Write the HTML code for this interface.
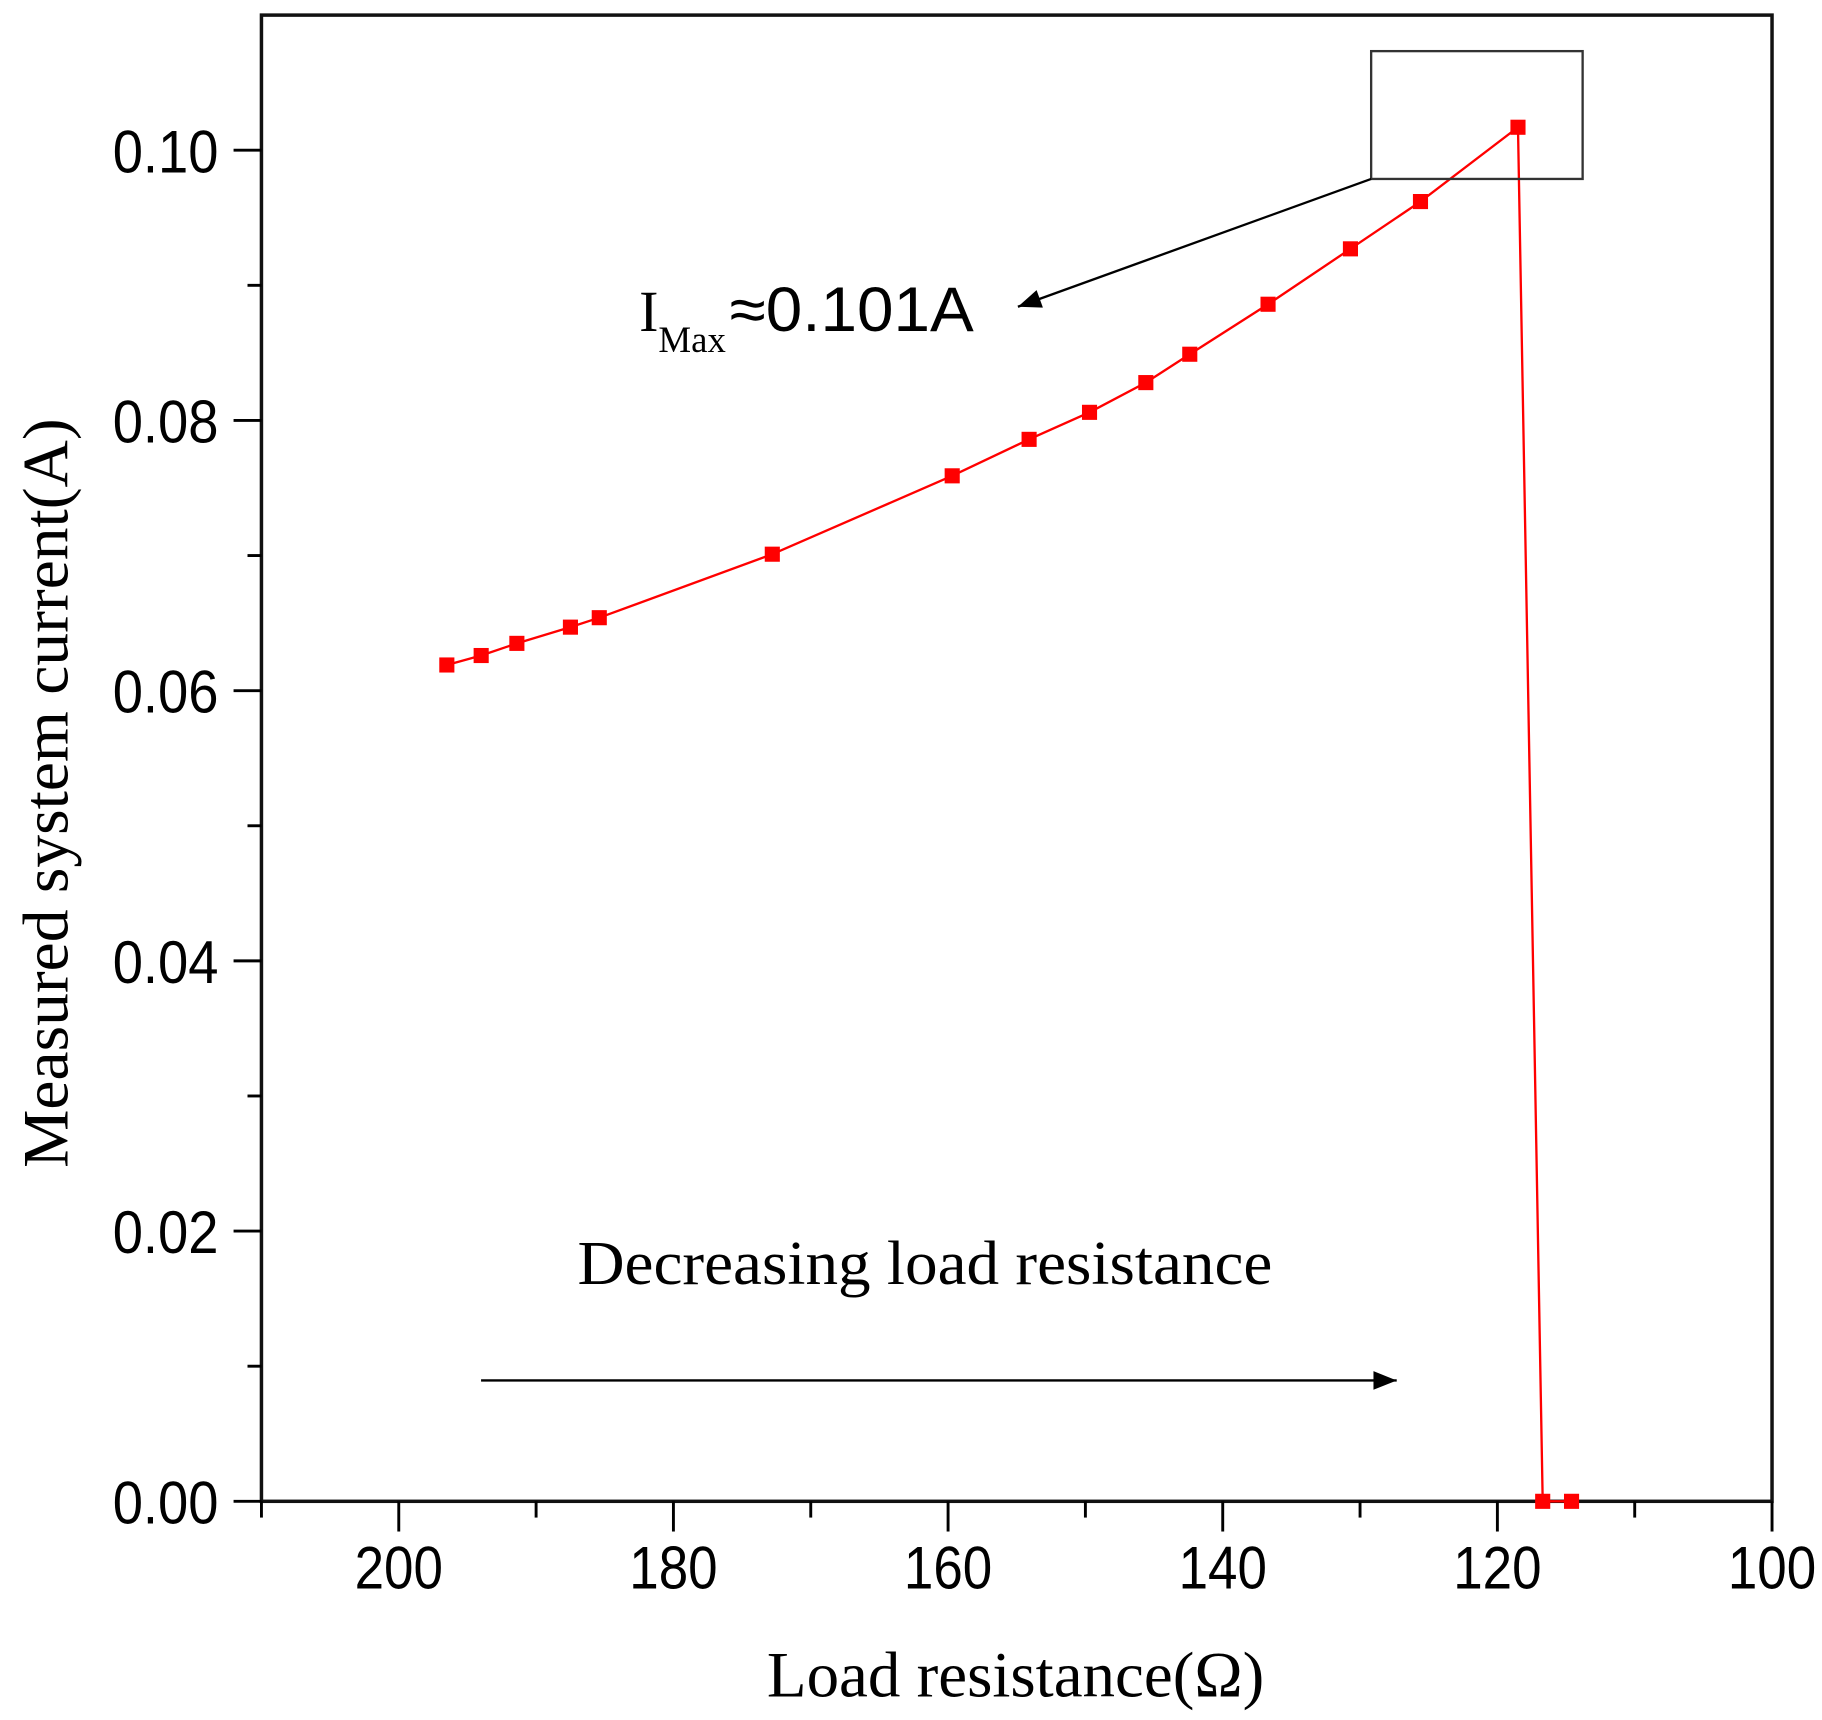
<!DOCTYPE html>
<html><head><meta charset="utf-8"><style>
html,body{margin:0;padding:0;background:#fff;}
svg{display:block;}
</style></head><body>
<svg id="chart" width="1822" height="1720" viewBox="0 0 1568 1480.2" preserveAspectRatio="none" xmlns="http://www.w3.org/2000/svg">
<g id="plot"></g>
</svg>
<script>
const resistance = [196.5, 194.0, 191.4, 187.5, 185.4, 172.8, 159.7, 154.1, 149.7, 145.6, 142.4, 136.7, 130.7, 125.6, 118.5, 116.7, 114.6];
const current = [0.0619, 0.0626, 0.0635, 0.0647, 0.0654, 0.0701, 0.0759, 0.0786, 0.0806, 0.0828, 0.0849, 0.0886, 0.0927, 0.0962, 0.1017, 0, 0];
const xTickLabels = [200, 180, 160, 140, 120, 100];
const xMinorTicks = [210, 190, 170, 150, 130, 110];
const yTickLabels = ["0.00", "0.02", "0.04", "0.06", "0.08", "0.10"];
const yTickValues = [0, 0.02, 0.04, 0.06, 0.08, 0.10];
const yMinorTicks = [0.01, 0.03, 0.05, 0.07, 0.09];

const L=225, R=1525, T=13, B=1292;
const xS = v => L + (210 - v) / 110 * (R - L);
const yS = v => B - v / 0.11 * (B - T);
const NS = "http://www.w3.org/2000/svg";
const g = document.getElementById('plot');
function mk(tag, attrs, parent){ const e=document.createElementNS(NS,tag); for(const k in attrs) e.setAttribute(k,attrs[k]); (parent||g).appendChild(e); return e; }

const defs = mk('defs',{});
const mkr = mk('marker',{id:'arr',viewBox:'0 0 10 8',markerWidth:'32',markerHeight:'16',refX:'10',refY:'4',orient:'auto',markerUnits:'userSpaceOnUse'},defs);
mk('path',{d:'M0,0 L10,4 L0,8 Z',fill:'#000'},mkr);

const frame = mk('rect',{x:L,y:T,width:R-L,height:B-T,fill:'none',stroke:'#111','stroke-width':'3'});



xTickLabels.forEach(v=>{
  const t=mk('line',{x1:xS(v),x2:xS(v),y1:B,y2:B+26,stroke:'#000','stroke-width':'2.5'});
  
  
  const tx=mk('text',{x:xS(v),y:B+75,'text-anchor':'middle','font-family':'Liberation Sans, sans-serif','font-size':'52',textLength:'76',lengthAdjust:'spacingAndGlyphs'});
  
  
  tx.textContent=v;
});
xMinorTicks.forEach(v=>{
  const t=mk('line',{x1:xS(v),x2:xS(v),y1:B,y2:B+14,stroke:'#000','stroke-width':'2.5'});
  
  
});
yTickValues.forEach((v,i)=>{
  const t=mk('line',{x1:L-24,x2:L,y1:yS(v),y2:yS(v),stroke:'#000','stroke-width':'2.5'});
  
  
  const tx=mk('text',{x:97,y:yS(v)+19,'font-family':'Liberation Sans, sans-serif','font-size':'52',textLength:'91',lengthAdjust:'spacingAndGlyphs'});
  
  
  tx.textContent=yTickLabels[i];
});
yMinorTicks.forEach(v=>{
  const t=mk('line',{x1:L-12,x2:L,y1:yS(v),y2:yS(v),stroke:'#000','stroke-width':'2.5'});
  
  
});

const pts = resistance.map((r,i)=>xS(r)+','+yS(current[i])).join(' ');
const line = mk('polyline',{points:pts,fill:'none',stroke:'#ff0000','stroke-width':'2'});


resistance.forEach((r,i)=>{
  const m=mk('rect',{x:xS(r)-6.5,y:yS(current[i])-6.5,width:13,height:13,fill:'#ff0000'});
  
  
});

const box=mk('rect',{x:1180,y:44,width:182,height:110,fill:'none',stroke:'#333','stroke-width':'2'});


const al=mk('line',{x1:1180,y1:154,x2:876,y2:264,stroke:'#000','stroke-width':'2','marker-end':'url(#arr)'});


const ann=mk('text',{x:550,y:285,'font-size':'50','font-family':'Liberation Serif, serif'});


ann.innerHTML='<tspan>I</tspan><tspan font-size="32" dy="18" textLength="58" lengthAdjust="spacingAndGlyphs">Max</tspan><tspan dy="-18" x="628" font-family="Liberation Sans, sans-serif" font-size="54" textLength="210" lengthAdjust="spacingAndGlyphs">≈0.101A</tspan>';
const dl=mk('text',{x:497,y:1105,'font-size':'54','font-family':'Liberation Serif, serif',textLength:'598',lengthAdjust:'spacingAndGlyphs'});


dl.textContent='Decreasing load resistance';
const da=mk('line',{x1:414,y1:1188,x2:1202,y2:1188,stroke:'#000','stroke-width':'2','marker-end':'url(#arr)'});



const xt=mk('text',{x:660,y:1460,'font-size':'56','font-family':'Liberation Serif, serif',textLength:'428',lengthAdjust:'spacingAndGlyphs'});


xt.textContent='Load resistance(Ω)';
const yt=mk('text',{x:0,y:0,'font-size':'56','font-family':'Liberation Serif, serif',textLength:'645',lengthAdjust:'spacingAndGlyphs',transform:'translate(58,1005) rotate(-90)'});


yt.textContent='Measured system current(A)';
</script>
</body></html>
